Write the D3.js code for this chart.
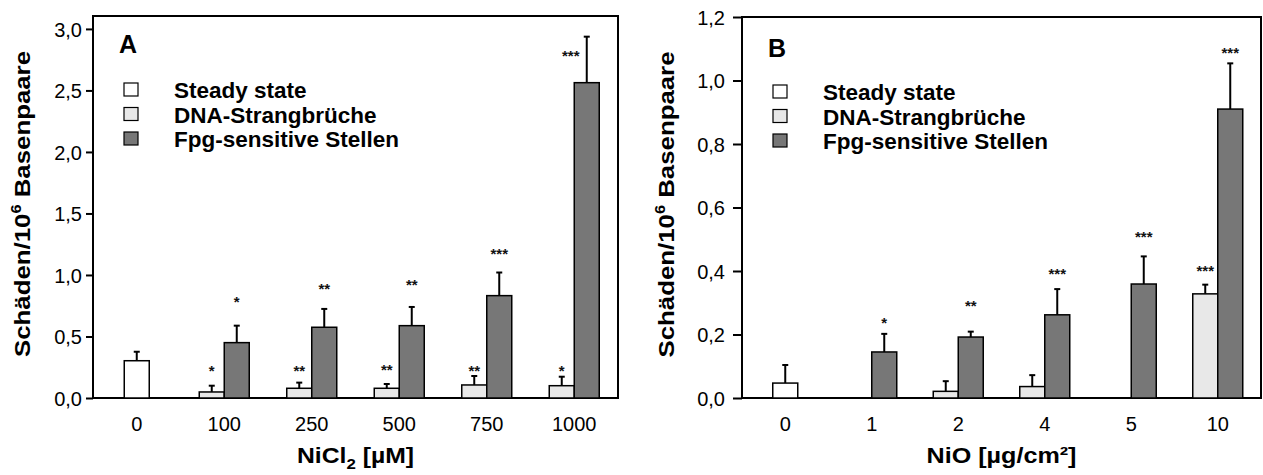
<!DOCTYPE html>
<html>
<head>
<meta charset="utf-8">
<script src="https://cdn.jsdelivr.net/npm/d3@7"></script>
<style>
  body { margin: 0; background: #fff; }
  svg { font-family: "Liberation Sans", Arial, sans-serif; }
</style>
</head>
<body>
<svg id="chart" width="1263" height="475"></svg>
<script>
// Panel A: NiCl2
const catsA = ["0", "100", "250", "500", "750", "1000"];
const steadyA = [0.303, null, null, null, null, null];
const steadyErrA = [0.073, null, null, null, null, null];
const strandA = [null, 0.049, 0.079, 0.079, 0.106, 0.100];
const strandErrA = [null, 0.051, 0.046, 0.035, 0.073, 0.073];
const fpgA = [null, 0.45, 0.575, 0.588, 0.832, 2.563];
const fpgErrA = [null, 0.138, 0.149, 0.152, 0.188, 0.374];
const sigStrandA = ["", "*", "**", "**", "**", "*"];
const sigStrandYA = [null, 0.254, 0.254, 0.268, 0.26, 0.254];
const sigFpgA = ["", "*", "**", "**", "***", "***"];
const sigFpgYA = [null, 0.813, 0.924, 0.954, 1.203, 2.815];
const ticksA = [0, 0.5, 1.0, 1.5, 2.0, 2.5, 3.0];

// Panel B: NiO
const catsB = ["0", "1", "2", "4", "5", "10"];
const steadyB = [0.047, null, null, null, null, null];
const steadyErrB = [0.057, null, null, null, null, null];
const strandB = [null, null, 0.021, 0.036, null, 0.328];
const strandErrB = [null, null, 0.032, 0.036, null, 0.029];
const fpgB = [null, 0.145, 0.192, 0.262, 0.359, 0.91];
const fpgErrB = [null, 0.057, 0.017, 0.081, 0.087, 0.144];
const sigStrandB = ["", "", "", "", "", "***"];
const sigStrandYB = [null, null, null, null, null, 0.415];
const sigFpgB = ["", "*", "**", "***", "***", "***"];
const sigFpgYB = [null, 0.25, 0.303, 0.405, 0.521, 1.101];
const ticksB = [0, 0.2, 0.4, 0.6, 0.8, 1.0, 1.2];

const legendLabels = ["Steady state", "DNA-Strangbrüche", "Fpg-sensitive Stellen"];
const fills = ["#ffffff", "#e8e8e8", "#777777"];

const svg = d3.select("#chart");
const barW = 25;

function drawPanel(p) {
    const g = svg.append("g");
    const x = d3.scaleBand().domain(p.cats).range([p.left, p.right]);
    const y = d3.scaleLinear().domain([0, p.ymax]).range([p.bottom, p.top]);

    // y axis ticks
    const yAxis = d3.axisLeft(y)
        .tickValues(p.ticks)
        .tickSize(p.tickLen)
        .tickSizeOuter(0)
        .tickFormat(d => d3.format(".1f")(d).replace(".", ","));
    const ya = g.append("g")
        .attr("transform", `translate(${p.left},0)`)
        .call(yAxis);
    ya.select(".domain").remove();
    ya.selectAll("line").attr("stroke", "#000").attr("stroke-width", 2);
    ya.selectAll("text")
        .attr("font-size", 20)
        .attr("x", -p.tickLen - p.tickGap)
        .attr("dy", "0.36em")
        .attr("fill", "#000");

    // x category labels
    const xa = g.append("g")
        .attr("transform", `translate(0,${p.bottom})`)
        .call(d3.axisBottom(x).tickSize(0).tickPadding(0));
    xa.select(".domain").remove();
    xa.selectAll("text")
        .attr("font-size", 20)
        .attr("y", 33)
        .attr("dy", 0)
        .attr("fill", "#000");

    // frame
    g.append("rect")
        .attr("x", p.left).attr("y", p.top)
        .attr("width", p.right - p.left).attr("height", p.bottom - p.top)
        .attr("fill", "none").attr("stroke", "#000").attr("stroke-width", 2);

    // bars
    const series = [
        { v: p.steady, e: p.steadyErr, fill: fills[0], off: -barW / 2 },
        { v: p.strand, e: p.strandErr, fill: fills[1], off: -barW },
        { v: p.fpg, e: p.fpgErr, fill: fills[2], off: 0 }
    ];
    series.forEach(s => {
        const rows = p.cats.map((c, i) => ({ c: c, v: s.v[i], e: s.e[i] })).filter(d => d.v !== null);
        const cx = d => x(d.c) + x.bandwidth() / 2 + s.off + barW / 2;
        const withErr = rows.filter(d => d.e !== null);
        g.selectAll(null).data(withErr).enter()
            .append("line")
            .attr("x1", cx).attr("x2", cx)
            .attr("y1", d => y(d.v)).attr("y2", d => y(d.v + d.e))
            .attr("stroke", "#000").attr("stroke-width", 2);
        g.selectAll(null).data(withErr).enter()
            .append("line")
            .attr("x1", d => cx(d) - 3).attr("x2", d => cx(d) + 3)
            .attr("y1", d => y(d.v + d.e)).attr("y2", d => y(d.v + d.e))
            .attr("stroke", "#000").attr("stroke-width", 2);
        g.selectAll(null).data(rows).enter()
            .append("rect")
            .attr("x", d => x(d.c) + x.bandwidth() / 2 + s.off)
            .attr("y", d => y(d.v))
            .attr("width", barW)
            .attr("height", d => y(0) - y(d.v))
            .attr("fill", s.fill)
            .attr("stroke", "#000")
            .attr("stroke-width", 1.5);
    });

    // significance stars
    const sigs = [
        { t: p.sigStrand, yv: p.sigStrandY, v: p.strand, e: p.strandErr, off: -barW / 2 },
        { t: p.sigFpg, yv: p.sigFpgY, v: p.fpg, e: p.fpgErr, off: barW / 2 }
    ];
    sigs.forEach(s => {
        const rows = p.cats.map((c, i) => ({ c: c, t: s.t[i], yv: s.yv[i], top: (s.v[i] || 0) + (s.e[i] || 0) }))
            .filter(d => d.t);
        g.selectAll(null).data(rows).enter()
            .append("text")
            // a star that would sit on the error line goes to its left
            .attr("x", d => x(d.c) + x.bandwidth() / 2 + s.off - (d.yv < d.top ? 16 : 0))
            .attr("y", d => y(d.yv) + 9.5)
            .attr("text-anchor", "middle")
            .attr("font-size", 15)
            .attr("font-weight", "bold")
            .attr("fill", "#111")
            .text(d => d.t);
    });

    // panel letter
    g.append("text")
        .attr("x", p.left + 26).attr("y", p.letterY)
        .attr("font-size", 25).attr("font-weight", "bold")
        .text(p.letter);

    // legend
    const lg = g.append("g").attr("transform", `translate(${p.left + 31},${p.legendTop})`);
    legendLabels.forEach((lab, i) => {
        lg.append("rect")
            .attr("x", 0).attr("y", i * 24.5)
            .attr("width", 14).attr("height", 13)
            .attr("fill", fills[i]).attr("stroke", "#000").attr("stroke-width", 1.2);
        lg.append("text")
            .attr("x", 50).attr("y", i * 24.5 + 15)
            .attr("font-size", 22.5).attr("font-weight", "bold")
            .text(lab);
    });

    // axis titles
    const yl = g.append("text")
        .attr("transform", `translate(${p.yLabelX},${(p.top + p.bottom) / 2 - 3}) rotate(-90)`)
        .attr("text-anchor", "middle")
        .attr("font-size", 22).attr("font-weight", "bold")
        .attr("textLength", 306).attr("lengthAdjust", "spacingAndGlyphs");
    yl.append("tspan").text("Schäden/10");
    yl.append("tspan").attr("font-size", 14).attr("dy", -9).text("6");
    yl.append("tspan").attr("dy", 9).text(" Basenpaare");

    const xl = g.append("text")
        .attr("x", (p.left + p.right) / 2).attr("y", p.bottom + 65)
        .attr("text-anchor", "middle")
        .attr("font-size", 22).attr("font-weight", "bold")
        .attr("textLength", p.xTitleLen).attr("lengthAdjust", "spacingAndGlyphs");
    p.xTitle(xl);
}

drawPanel({
    letter: "A", cats: catsA, ticks: ticksA, ymax: 3.105,
    left: 93, right: 618, top: 16, bottom: 398,
    tickLen: 7, tickGap: 4, letterY: 53, legendTop: 83, yLabelX: 30, xTitleLen: 117,
    steady: steadyA, steadyErr: steadyErrA, strand: strandA, strandErr: strandErrA,
    fpg: fpgA, fpgErr: fpgErrA,
    sigStrand: sigStrandA, sigStrandY: sigStrandYA, sigFpg: sigFpgA, sigFpgY: sigFpgYA,
    xTitle: t => {
        t.append("tspan").text("NiCl");
        t.append("tspan").attr("font-size", 15).attr("dy", 6).text("2");
        t.append("tspan").attr("dy", -6).text(" [µM]");
    }
});

drawPanel({
    letter: "B", cats: catsB, ticks: ticksB, ymax: 1.2,
    left: 742, right: 1261, top: 17, bottom: 398,
    tickLen: 9, tickGap: 8, letterY: 57, legendTop: 85, yLabelX: 674, xTitleLen: 150,
    steady: steadyB, steadyErr: steadyErrB, strand: strandB, strandErr: strandErrB,
    fpg: fpgB, fpgErr: fpgErrB,
    sigStrand: sigStrandB, sigStrandY: sigStrandYB, sigFpg: sigFpgB, sigFpgY: sigFpgYB,
    xTitle: t => { t.text("NiO [µg/cm²]"); }
});
</script>
</body>
</html>
